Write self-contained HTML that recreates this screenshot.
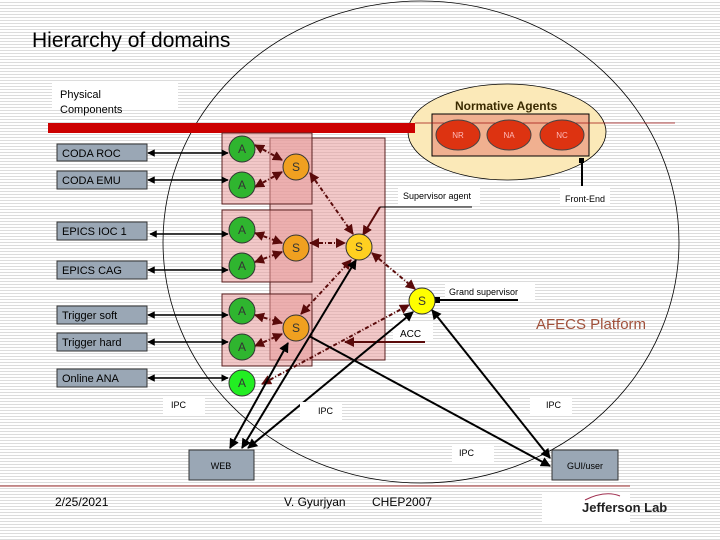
<!DOCTYPE html>
<html><head><meta charset="utf-8"><style>
html,body{margin:0;padding:0;}
body{width:720px;height:540px;overflow:hidden;background:#fff repeating-linear-gradient(to bottom,#fff 0px,#fff 2px,#dcdcdc 2px,#dcdcdc 3px);}
svg{display:block;font-family:"Liberation Sans",sans-serif;}
</style></head><body>
<svg width="720" height="540" viewBox="0 0 720 540" xmlns="http://www.w3.org/2000/svg">
<defs>
<marker id="ah" viewBox="0 0 10 10" refX="9" refY="5" markerWidth="5" markerHeight="5" orient="auto-start-reverse"><path d="M0,0L10,5L0,10z" fill="#000"/></marker>
<marker id="ar" viewBox="0 0 10 10" refX="9" refY="5" markerWidth="5" markerHeight="5" orient="auto-start-reverse"><path d="M0,0L10,5L0,10z" fill="#5a0a0a"/></marker>
</defs>
<text x="32" y="47" font-size="21" fill="#000">Hierarchy of domains</text>
<ellipse cx="421" cy="242" rx="258" ry="241" fill="none" stroke="#000" stroke-width="0.8"/>
<rect x="52" y="83" width="126" height="27" fill="#fff"/>
<text x="60" y="98" font-size="11">Physical</text>
<text x="60" y="113" font-size="11">Components</text>
<ellipse cx="507" cy="132" rx="99" ry="48" fill="#fbe9b8" stroke="#000" stroke-width="0.8"/>
<text x="455" y="110" font-size="12" font-weight="bold" fill="#3a2a00">Normative Agents</text>
<rect x="432" y="114" width="157" height="42" fill="#f0b090" stroke="#000"/>
<line x1="415" y1="123" x2="675" y2="123" stroke="#a01010" stroke-width="0.8"/>
<rect x="48" y="123" width="367" height="10" fill="#cc0000"/>
<ellipse cx="458" cy="135" rx="22" ry="15" fill="#dd3311" stroke="#444"/>
<ellipse cx="509" cy="135" rx="22" ry="15" fill="#dd3311" stroke="#444"/>
<ellipse cx="562" cy="135" rx="22" ry="15" fill="#dd3311" stroke="#444"/>
<text x="458" y="138" font-size="8" fill="#fbb" text-anchor="middle">NR</text>
<text x="509" y="138" font-size="8" fill="#fbb" text-anchor="middle">NA</text>
<text x="562" y="138" font-size="8" fill="#fbb" text-anchor="middle">NC</text>
<line x1="582" y1="161" x2="582" y2="189" stroke="#000" stroke-width="2"/>
<rect x="579" y="158" width="5" height="5" fill="#000"/>
<rect x="560" y="186" width="50" height="20" fill="#fff"/>
<text x="565" y="202" font-size="9">Front-End</text>
<rect x="270" y="138" width="115" height="222" fill="#e89a9a" fill-opacity="0.55" stroke="#5a2020"/>
<rect x="222" y="133" width="90" height="71" fill="#e89a9a" fill-opacity="0.55" stroke="#5a2020"/>
<rect x="222" y="210" width="90" height="72" fill="#e89a9a" fill-opacity="0.55" stroke="#5a2020"/>
<rect x="222" y="294" width="90" height="72" fill="#e89a9a" fill-opacity="0.55" stroke="#5a2020"/>
<rect x="398" y="186" width="82" height="20" fill="#fff"/>
<text x="403" y="199" font-size="9">Supervisor agent</text>
<line x1="472" y1="207" x2="380" y2="207" stroke="#000"/>
<line x1="380" y1="207" x2="363" y2="235" stroke="#5a0a0a" stroke-width="2" marker-end="url(#ar)"/>
<rect x="445" y="283" width="90" height="18" fill="#fff"/>
<text x="449" y="295" font-size="9">Grand supervisor</text>
<line x1="518" y1="300" x2="437" y2="300" stroke="#000" stroke-width="2"/>
<rect x="434" y="297" width="6" height="6" fill="#000"/>
<rect x="393" y="323" width="40" height="18" fill="#fff"/>
<text x="400" y="337" font-size="10">ACC</text>
<line x1="425" y1="342" x2="345" y2="342" stroke="#5a0a0a" stroke-width="2" marker-end="url(#ar)"/>
<text x="536" y="329" font-size="15" fill="#a0503a">AFECS Platform</text>
<g font-size="11" fill="#000">
<rect x="57" y="144" width="90" height="17" fill="#9aa7b5" stroke="#333"/><text x="62" y="157">CODA ROC</text>
<rect x="57" y="171" width="90" height="18" fill="#9aa7b5" stroke="#333"/><text x="62" y="184">CODA EMU</text>
<rect x="57" y="222" width="90" height="18" fill="#9aa7b5" stroke="#333"/><text x="62" y="235">EPICS IOC 1</text>
<rect x="57" y="261" width="90" height="18" fill="#9aa7b5" stroke="#333"/><text x="62" y="274">EPICS CAG</text>
<rect x="57" y="306" width="90" height="18" fill="#9aa7b5" stroke="#333"/><text x="62" y="319">Trigger soft</text>
<rect x="57" y="333" width="90" height="18" fill="#9aa7b5" stroke="#333"/><text x="62" y="346">Trigger hard</text>
<rect x="57" y="369" width="90" height="18" fill="#9aa7b5" stroke="#333"/><text x="62" y="382">Online ANA</text>
</g>
<g stroke="#000" stroke-width="1.5" marker-start="url(#ah)" marker-end="url(#ah)">
<line x1="148" y1="153" x2="228" y2="153"/>
<line x1="148" y1="180" x2="228" y2="180"/>
<line x1="150" y1="234" x2="228" y2="234"/>
<line x1="148" y1="270" x2="228" y2="270"/>
<line x1="148" y1="315" x2="228" y2="315"/>
<line x1="148" y1="342" x2="228" y2="342"/>
<line x1="148" y1="378" x2="228" y2="378"/>
</g>
<g stroke="#5a0a0a" stroke-width="2" stroke-dasharray="4,2,1,2" marker-start="url(#ar)" marker-end="url(#ar)" fill="none">
<line x1="255" y1="145" x2="282" y2="160"/>
<line x1="255" y1="187" x2="282" y2="172"/>
<line x1="255" y1="233" x2="282" y2="243"/>
<line x1="255" y1="262" x2="282" y2="252"/>
<line x1="255" y1="315" x2="282" y2="323"/>
<line x1="255" y1="346" x2="282" y2="334"/>
<line x1="310" y1="173" x2="353" y2="234"/>
<line x1="310" y1="243" x2="345" y2="243"/>
<line x1="301" y1="314" x2="351" y2="260"/>
<line x1="372" y1="253" x2="415" y2="289"/>
<line x1="262" y1="384" x2="409" y2="305"/>
</g>
<g stroke="#000" stroke-width="2" fill="none">
<line x1="288" y1="343" x2="230" y2="448" marker-start="url(#ah)" marker-end="url(#ah)"/>
<line x1="356" y1="260" x2="242" y2="448" marker-start="url(#ah)" marker-end="url(#ah)"/>
<line x1="413" y1="312" x2="248" y2="448" marker-start="url(#ah)" marker-end="url(#ah)"/>
<line x1="309" y1="336" x2="550" y2="466" marker-end="url(#ah)"/>
<line x1="432" y1="310" x2="550" y2="458" marker-start="url(#ah)" marker-end="url(#ah)"/>
</g>
<g font-size="12" text-anchor="middle" stroke="#333">
<circle cx="242" cy="149" r="13" fill="#2fb52f"/><circle cx="242" cy="185" r="13" fill="#2fb52f"/>
<circle cx="242" cy="230" r="13" fill="#2fb52f"/><circle cx="242" cy="266" r="13" fill="#2fb52f"/>
<circle cx="242" cy="311" r="13" fill="#2fb52f"/><circle cx="242" cy="347" r="13" fill="#2fb52f"/>
<circle cx="242" cy="383" r="13" fill="#22ee22"/>
<circle cx="296" cy="167" r="13" fill="#f0a020"/><circle cx="296" cy="248" r="13" fill="#f0a020"/><circle cx="296" cy="328" r="13" fill="#f0a020"/>
<circle cx="359" cy="247" r="13" fill="#ffd020"/>
<circle cx="422" cy="301" r="13" fill="#ffff00"/>
</g>
<g font-size="12" text-anchor="middle" fill="#333">
<text x="242" y="153">A</text><text x="242" y="189">A</text><text x="242" y="234">A</text><text x="242" y="270">A</text><text x="242" y="315">A</text><text x="242" y="351">A</text><text x="242" y="387">A</text>
<text x="296" y="171">S</text><text x="296" y="252">S</text><text x="296" y="332">S</text><text x="359" y="251">S</text><text x="422" y="305">S</text>
</g>
<g font-size="9">
<rect x="163" y="396" width="42" height="18" fill="#fff"/><text x="171" y="408">IPC</text>
<rect x="300" y="402" width="42" height="18" fill="#fff"/><text x="318" y="414">IPC</text>
<rect x="530" y="396" width="42" height="18" fill="#fff"/><text x="546" y="408">IPC</text>
<rect x="452" y="444" width="42" height="18" fill="#fff"/><text x="459" y="456">IPC</text>
</g>
<rect x="189" y="450" width="65" height="30" fill="#9aa7b5" stroke="#333"/>
<text x="221" y="469" font-size="9" text-anchor="middle">WEB</text>
<rect x="552" y="450" width="66" height="30" fill="#9aa7b5" stroke="#333"/>
<text x="585" y="469" font-size="9" text-anchor="middle">GUI/user</text>
<line x1="0" y1="486" x2="630" y2="486" stroke="#a03030" stroke-width="1"/>
<text x="55" y="506" font-size="12">2/25/2021</text>
<text x="284" y="506" font-size="12">V. Gyurjyan</text>
<text x="372" y="506" font-size="12">CHEP2007</text>
<rect x="542" y="492" width="88" height="30" fill="#fff"/>
<text x="582" y="512" font-size="13" font-weight="bold" fill="#222">Jefferson Lab</text>
<path d="M585,500 Q605,490 620,496" stroke="#a03050" fill="none"/>
</svg>
</body></html>
